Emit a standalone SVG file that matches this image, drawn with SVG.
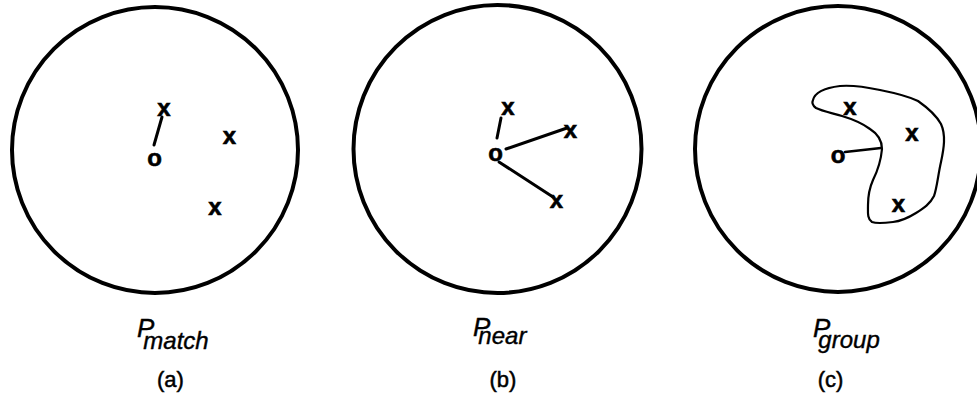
<svg xmlns="http://www.w3.org/2000/svg" width="977" height="397" viewBox="0 0 977 397">
<style>
.ring{fill:none;stroke:#000;stroke-width:4}
.mk{font-family:"Liberation Sans",Arial,sans-serif;font-weight:bold;font-size:24px;text-anchor:middle;fill:#000;stroke:#000;stroke-width:0.6}
.ln{stroke:#000;stroke-width:3;stroke-linecap:round;fill:none}
.blob{fill:none;stroke:#000;stroke-width:2.2;stroke-linejoin:round}
.lbl{font-family:"Liberation Sans",Arial,sans-serif;font-style:italic;font-size:26px;fill:#000;stroke:#000;stroke-width:0.4}
.sub{font-size:24px}
.cap{font-family:"Liberation Sans",Arial,sans-serif;font-size:22px;text-anchor:middle;fill:#000;stroke:#000;stroke-width:0.5}
</style>
<rect width="977" height="397" fill="#fff"/>
<g id="panel-a">
<circle class="ring" cx="155" cy="150" r="143"/>
<text class="mk" x="164" y="116">x</text>
<text class="mk" x="229.5" y="144">x</text>
<text class="mk" x="215" y="215">x</text>
<text class="mk" x="154.5" y="166">o</text>
<text class="lbl" x="137" y="337">P<tspan class="sub" dx="-11" dy="12">match</tspan></text>
<text class="cap" x="170.5" y="387">(a)</text>
</g>
<g id="panel-b">
<circle class="ring" cx="497.5" cy="149" r="144"/>
<text class="mk" x="508" y="115">x</text>
<text class="mk" x="570.5" y="138">x</text>
<text class="mk" x="556.5" y="208">x</text>
<text class="mk" x="495.5" y="161">o</text>
<text class="lbl" x="473" y="336">P<tspan class="sub" dx="-12" dy="8">near</tspan></text>
<text class="cap" x="503" y="387">(b)</text>
</g>
<g id="panel-c">
<circle class="ring" cx="838" cy="149" r="143"/>
<path class="blob" d="M813,100 C815,92 824,88 840,86 C852,85 866,87 880,90 C895,93 908,96 918,101 C928,108 936,115 941,124 C946,135 944,148 941,162 C938,175 937,188 934,196 C930,204 924,208 916,213 C908,218 902,221 893,222 C885,223 877,224 872,222 C867,219 868,212 868,205 C868,196 869,189 873,180 C878,170 881,160 882,149 C882,140 878,134 870,129 C862,123 852,119 842,116 C832,113 822,111 816,108 C812,105 812,102 813,100 Z"/>
<text class="mk" x="850" y="115">x</text>
<text class="mk" x="912" y="141">x</text>
<text class="mk" x="898.5" y="212">x</text>
<text class="mk" x="838" y="163">o</text>
<text class="lbl" x="813" y="337">P<tspan class="sub" dx="-12" dy="11">group</tspan></text>
<text class="cap" x="830.5" y="387">(c)</text>
</g>
<g id="connectors">
<line class="ln" x1="154" y1="145" x2="162" y2="117"/>
<line class="ln" x1="497" y1="138" x2="501" y2="118"/>
<line class="ln" x1="506" y1="149" x2="567" y2="128"/>
<line class="ln" x1="499" y1="162" x2="553" y2="197"/>
<line class="ln" x1="845" y1="152" x2="881" y2="148" style="stroke-width:2.5"/>
</g>
</svg>
